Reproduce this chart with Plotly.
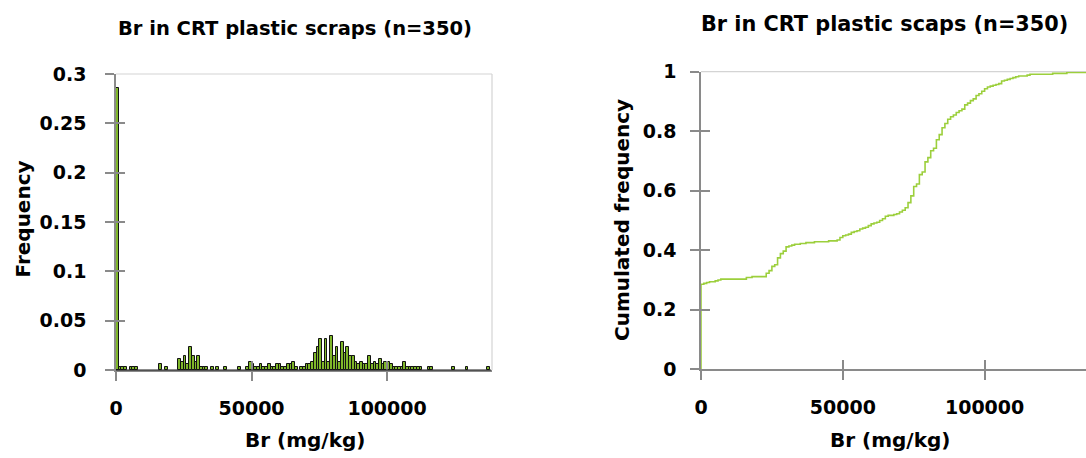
import numpy as np
import plotly.graph_objects as go

# ---- data ----
n_samples = 350
bin_width = 1000  # mg/kg
# lower edge of each non-empty 1000 mg/kg bin (in thousands of mg/kg)
bin_start_k = [0, 1, 2, 3, 5, 6, 7, 16, 18,
               23, 24, 25, 26, 27, 28, 29, 30, 31, 32, 33, 35, 37, 40, 45,
               48, 49, 50, 51, 52, 53, 54, 55, 56, 57, 58, 59, 60, 61, 62, 63, 64, 65, 66, 68, 69, 70,
               71, 72, 73, 74, 75, 76, 77, 78, 79, 80, 81, 82, 83, 84,
               85, 86, 87, 88, 89, 90, 91, 92, 93, 94, 95, 96, 97, 98, 99,
               100, 101, 102, 103, 104, 105, 106, 107, 108, 109, 110, 111, 112,
               115, 116, 124, 129, 137]
bin_counts = [100, 1, 1, 1, 1, 1, 1, 2, 1,
              4, 3, 5, 2, 8, 5, 3, 5, 1, 1, 1, 1, 1, 1, 1,
              1, 3, 2, 1, 1, 2, 1, 1, 2, 1, 1, 2, 2, 1, 1, 2, 2, 3, 1, 1, 1, 2,
              2, 3, 6, 8, 11, 3, 11, 3, 12, 5, 8, 3, 10, 6,
              8, 5, 5, 3, 2, 3, 2, 2, 5, 2, 3, 2, 4, 2, 3,
              3, 2, 1, 1, 1, 1, 3, 1, 1, 1, 1, 1, 1,
              1, 1, 1, 1, 1]
x_ticks = [0, 50000, 100000]
y1_ticks = [0, 0.05, 0.1, 0.15, 0.2, 0.25, 0.3]
y1_labels = ["0", "0.05", "0.1", "0.15", "0.2", "0.25", "0.3"]
y2_ticks = [0, 0.2, 0.4, 0.6, 0.8, 1]
y2_labels = ["0", "0.2", "0.4", "0.6", "0.8", "1"]
title_left = "Br in CRT plastic scraps (n=350)"
title_right = "Br in CRT plastic scaps (n=350)"
x_title = "Br (mg/kg)"
y1_title = "Frequency"
y2_title = "Cumulated frequency"

# ---- derived ----
starts = np.array(bin_start_k) * bin_width
counts = np.array(bin_counts, dtype=float)
freq = counts / n_samples
cum = np.cumsum(counts) / n_samples

W, H = 1086, 458
FONT = "DejaVu Sans"
AX = "#8a8a8a"
BORDER = "#d4d4d4"

fig = go.Figure()
fig.add_trace(go.Bar(x=starts + bin_width / 2, y=freq, width=bin_width,
                     marker=dict(color="#7fb72a", line=dict(color="#111111", width=1)),
                     xaxis="x", yaxis="y", showlegend=False))

cx = np.concatenate([[0], starts, [136500]])
cy = np.concatenate([[0], cum, [cum[-1]]])
fig.add_trace(go.Scatter(x=cx, y=cy, mode="lines", line=dict(color="#9ccf3c", width=1.6, shape="hv"),
                         xaxis="x2", yaxis="y2", showlegend=False))

# invisible traces to carry the overlay axes (inside half of cross ticks)
for xa, ya in (("x3", "y3"), ("x4", "y4")):
    fig.add_trace(go.Scatter(x=[0], y=[0], mode="markers", marker=dict(opacity=0),
                             hoverinfo="skip", xaxis=xa, yaxis=ya, showlegend=False))

def px_x(p):
    return p / W

def px_y(p):
    return 1 - p / H

L_dom_x = [px_x(116), px_x(492)]
L_dom_y = [px_y(370), px_y(74)]
R_dom_x = [px_x(701), 1.0]
R_dom_y = [px_y(369.3), px_y(71.7)]
L_xr = [0, 138700]
R_xr = [0, 135750]

tickfont = dict(family=FONT, size=19, color="black", weight="bold")
common_x = dict(showgrid=False, zeroline=False, tickmode="array", tickvals=x_ticks,
                ticktext=[str(v) for v in x_ticks], tickcolor=AX, tickwidth=1.5, ticklen=9)
common_y = dict(showgrid=False, zeroline=False, tickmode="array", tickcolor=AX, tickwidth=1.5, ticklen=9)

fig.update_layout(
    width=W, height=H, margin=dict(l=0, r=0, t=0, b=0, pad=0, autoexpand=False),
    paper_bgcolor="white", plot_bgcolor="rgba(0,0,0,0)", bargap=0, showlegend=False,
    xaxis=dict(domain=L_dom_x, range=L_xr, anchor="y", ticks="outside", showline=True,
               linecolor=AX, linewidth=1.5, tickfont=tickfont, ticklabelstandoff=11,
               automargin=False, **common_x),
    yaxis=dict(domain=L_dom_y, range=[0, 0.3], anchor="x", ticks="outside", showline=True,
               linecolor=AX, linewidth=1.5, tickvals=y1_ticks, ticktext=y1_labels,
               tickfont=tickfont, ticklabelstandoff=15, automargin=False, **common_y),
    xaxis2=dict(domain=R_dom_x, range=R_xr, anchor="y2", ticks="outside", showline=True,
                linecolor=AX, linewidth=1.5, tickfont=tickfont, ticklabelstandoff=11,
                automargin=False, **common_x),
    yaxis2=dict(domain=R_dom_y, range=[0, 1], anchor="x2", ticks="outside", showline=True,
                linecolor=AX, linewidth=1.5, tickvals=y2_ticks, ticktext=y2_labels,
                tickfont=tickfont, ticklabelstandoff=10, automargin=False, **common_y),
    xaxis3=dict(overlaying="x", range=L_xr, anchor="y3", side="bottom", ticks="inside",
                showticklabels=False, showline=False, automargin=False, **common_x),
    yaxis3=dict(overlaying="y", range=[0, 0.3], anchor="x3", side="left", ticks="inside",
                showticklabels=False, showline=False, tickvals=y1_ticks, automargin=False, **common_y),
    xaxis4=dict(overlaying="x2", range=R_xr, anchor="y4", side="bottom", ticks="inside",
                showticklabels=False, showline=False, automargin=False, **common_x),
    yaxis4=dict(overlaying="y2", range=[0, 1], anchor="x4", side="left", ticks="inside",
                showticklabels=False, showline=False, tickvals=y2_ticks, automargin=False, **common_y),
)

# light frame lines (top / right)
fig.add_shape(type="line", xref="x domain", yref="y domain", x0=0, x1=1, y0=1, y1=1,
              line=dict(color=BORDER, width=1.2), layer="below")
fig.add_shape(type="line", xref="x domain", yref="y domain", x0=1, x1=1, y0=0, y1=1,
              line=dict(color=BORDER, width=1.2), layer="below")
fig.add_shape(type="line", xref="x2 domain", yref="y2 domain", x0=0, x1=1, y0=1, y1=1,
              line=dict(color=BORDER, width=1.2), layer="below")
# dark histogram baseline (outline of empty bins)
fig.add_shape(type="line", xref="x domain", yref="y domain", x0=0, x1=0.997, y0=0, y1=0,
              line=dict(color="#1a1a1a", width=1.2), layer="above")

def ann(text, x, y, size, angle=0):
    fig.add_annotation(text=text, x=px_x(x), y=px_y(y), xref="paper", yref="paper",
                       showarrow=False, textangle=angle, xanchor="center", yanchor="middle",
                       font=dict(family=FONT, size=size, color="black", weight="bold"))

ann(title_left, 295, 28, 19.5)
ann(title_right, 884, 24, 20.8)
ann(x_title, 305, 440, 20)
ann(x_title, 890, 440, 20)
ann(y1_title, 22.5, 219, 20, -90)
ann(y2_title, 622, 220, 20, -90)

fig.write_html("out.html", config={"displayModeBar": False},
               post_script="document.body.style.margin='0px';")
